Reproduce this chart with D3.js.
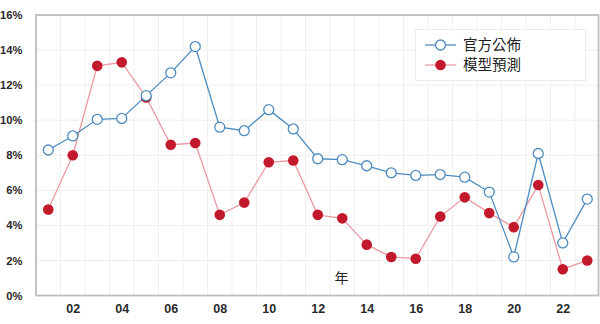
<!DOCTYPE html>
<html><head><meta charset="utf-8">
<script src="https://cdn.jsdelivr.net/npm/d3@7"></script>
<style>body{margin:0;background:#fff}svg{display:block}</style>
</head><body>
<svg id="c" width="600" height="324"></svg>
<script>
const years = [1,2,3,4,5,6,7,8,9,10,11,12,13,14,15,16,17,18,19,20,21,22,23];
const official = [8.3,9.1,10.05,10.1,11.4,12.7,14.2,9.6,9.4,10.6,9.5,7.8,7.75,7.4,7.0,6.85,6.9,6.75,5.9,2.2,8.1,3.0,5.5];
const model = [4.9,8.0,13.1,13.3,11.3,8.6,8.7,4.6,5.3,7.6,7.7,4.6,4.4,2.9,2.2,2.1,4.5,5.6,4.7,3.9,6.3,1.5,2.0];
const xTicks = [2,4,6,8,10,12,14,16,18,20,22];
const yTicks = [0,2,4,6,8,10,12,14,16];
const seriesNames = ["官方公佈","模型預測"];
const xTitle = "年";

const svg = d3.select("#c");
const L=36, R=598.5, T=15, B=295.5;
const x = d3.scaleLinear().domain([0.5,23.5]).range([L,R+1]);
const y = d3.scaleLinear().domain([0,16]).range([B,T]);

// grid
const g = svg.append("g");
g.selectAll(".hg").data(yTicks.slice(1)).join("line")
  .attr("x1",L).attr("x2",R).attr("y1",d=>y(d)).attr("y2",d=>y(d))
  .attr("stroke","#eeeeee").attr("stroke-width",1);
g.selectAll(".vg").data(d3.range(1.5,23.5,1)).join("line")
  .attr("y1",T).attr("y2",B).attr("x1",d=>x(d)).attr("x2",d=>x(d))
  .attr("stroke","#f0f0f0").attr("stroke-width",1);

// frame
svg.append("rect").attr("x",L).attr("y",T).attr("width",R-L).attr("height",B-T)
  .attr("fill","none").attr("stroke","#bdbdbd").attr("stroke-width",1.8);

// axes
const ax = d3.axisBottom(x).tickValues(xTicks).tickSize(0).tickPadding(9)
  .tickFormat(d=>String(d).padStart(2,"0"));
const xa = svg.append("g").attr("transform",`translate(0,${B})`).call(ax);
xa.select(".domain").remove();
xa.selectAll(".tick text").attr("font-size",12.5);
const ay = d3.axisLeft(y).tickValues(yTicks).tickSize(0).tickPadding(13.5)
  .tickFormat(d=>d+"%");
const ya = svg.append("g").attr("transform",`translate(${L},0)`).call(ay);
ya.select(".domain").remove();
ya.selectAll(".tick text").attr("font-size",11.2);
svg.selectAll(".tick text").attr("font-family","Liberation Sans, Arial, sans-serif")
  .attr("font-weight","bold").attr("fill","#2a2a2a");

svg.append("text").attr("x",341.5).attr("y",283).attr("text-anchor","middle")
  .attr("font-family","Noto Sans CJK TC, sans-serif").attr("font-size",14).attr("fill","#222").text(xTitle);

const line = d3.line().x((d,i)=>x(years[i])).y(d=>y(d));
const blue="#4d8cc0", red="#c21a2c", pink="#eb9aa2";
svg.append("path").datum(model).attr("d",line).attr("fill","none").attr("stroke",pink).attr("stroke-width",1.3);
svg.append("path").datum(official).attr("d",line).attr("fill","none").attr("stroke",blue).attr("stroke-width",1.3);
svg.selectAll(".mr").data(model).join("circle").attr("cx",(d,i)=>x(years[i])).attr("cy",d=>y(d))
  .attr("r",5.3).attr("fill",red);
svg.selectAll(".mo").data(official).join("circle").attr("cx",(d,i)=>x(years[i])).attr("cy",d=>y(d))
  .attr("r",5).attr("fill","#fff").attr("stroke",blue).attr("stroke-width",1.3);

// legend
const lg = svg.append("g");
lg.append("rect").attr("x",415.5).attr("y",29.5).attr("width",170).attr("height",51)
  .attr("fill","#fff").attr("stroke","#ececec").attr("stroke-width",1);
const rows=[{n:seriesNames[0],c:blue,fill:"#fff",y:45},{n:seriesNames[1],c:pink,fill:red,y:65}];
rows.forEach(r=>{
  lg.append("line").attr("x1",425).attr("x2",456).attr("y1",r.y).attr("y2",r.y).attr("stroke",r.c).attr("stroke-width",1.3);
  if(r.fill==="#fff") lg.append("circle").attr("cx",440.5).attr("cy",r.y).attr("r",5).attr("fill","#fff").attr("stroke",blue).attr("stroke-width",1.3);
  else lg.append("circle").attr("cx",440.5).attr("cy",r.y).attr("r",5.3).attr("fill",red);
  lg.append("text").attr("x",463).attr("y",r.y+5).attr("font-family","Noto Sans CJK TC, sans-serif")
    .attr("font-size",14.5).attr("fill","#222").text(r.n);
});
</script>
</body></html>
